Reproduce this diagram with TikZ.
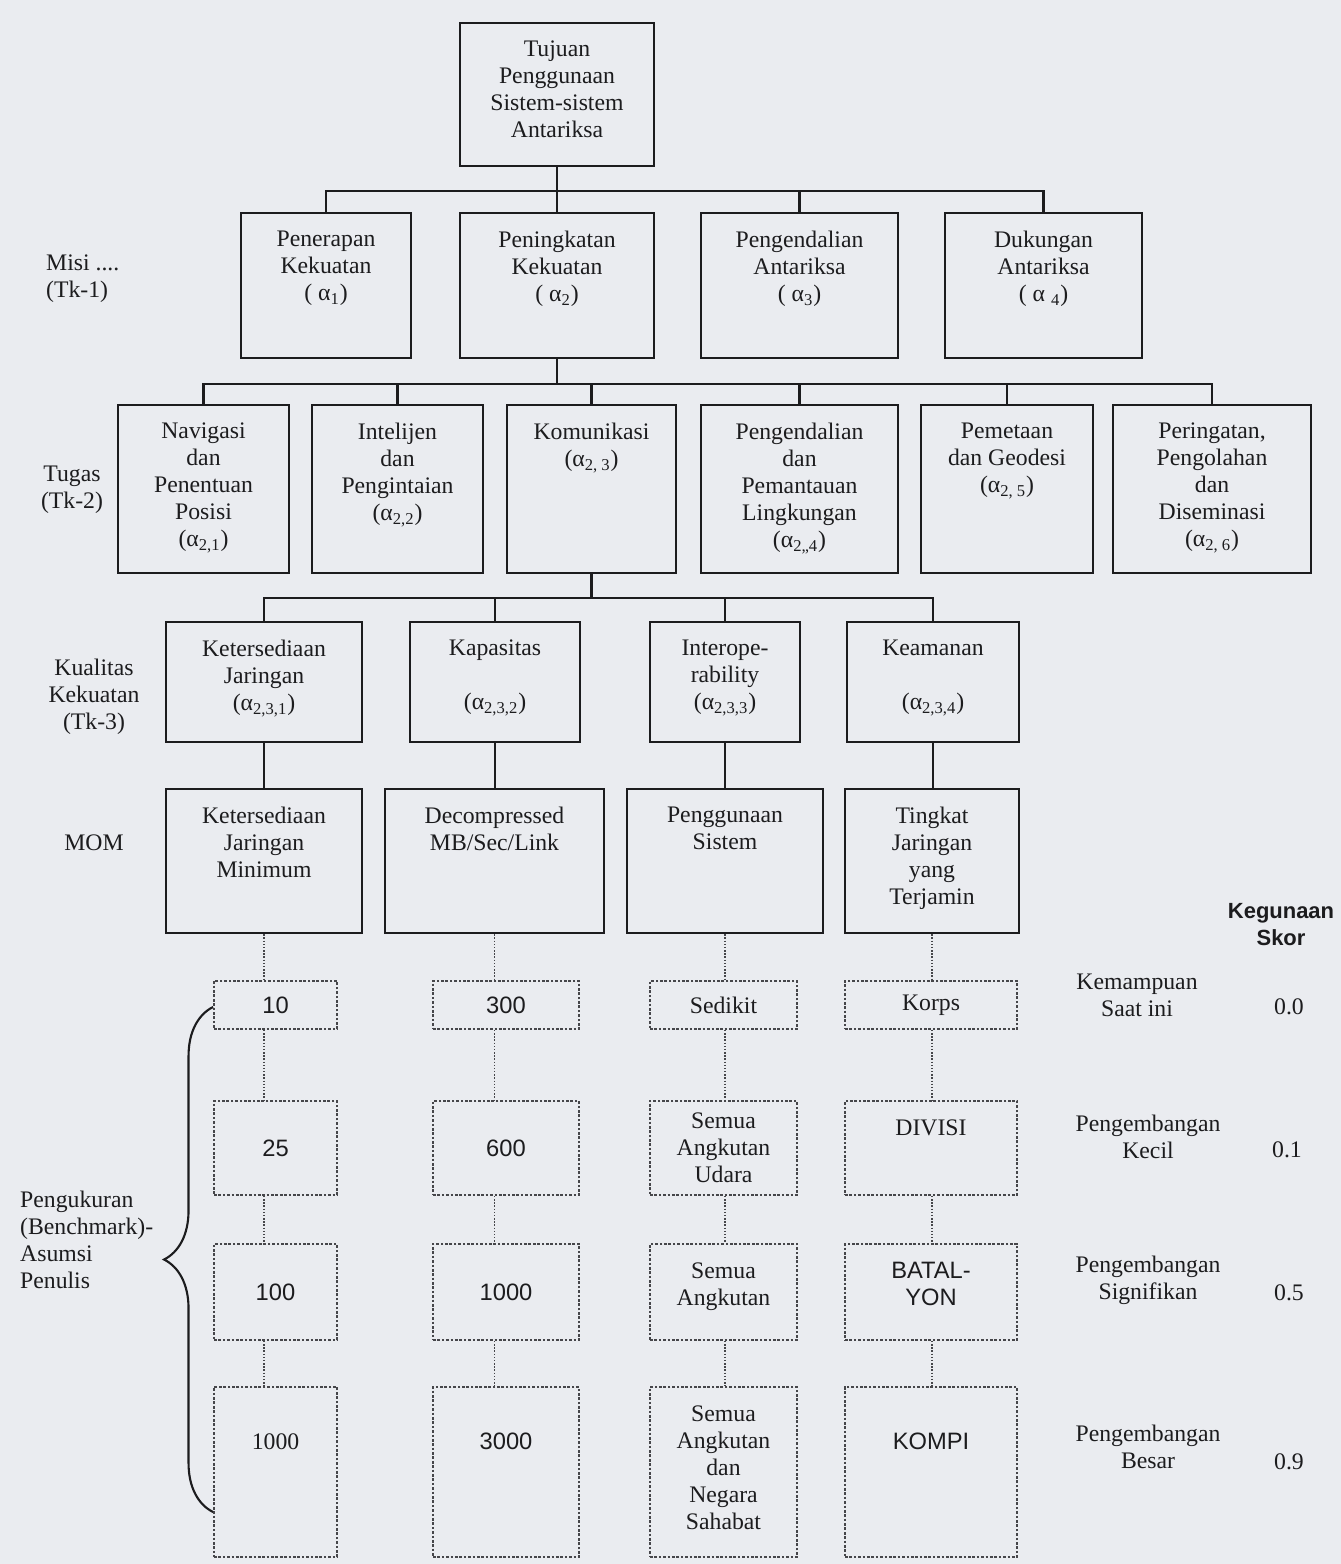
\documentclass[tikz,border=0pt]{standalone}
\usepackage{fontspec}
\setmainfont{Liberation Serif}
\setsansfont{Liberation Sans}
\usepackage{tikz}
\usetikzlibrary{positioning, calc, decorations.pathreplacing}
\definecolor{papercolor}{RGB}{234, 236, 240}
\definecolor{inkcolor}{RGB}{28, 28, 30}
\definecolor{dotcolor}{RGB}{70, 70, 74}

\begin{document}
\begin{tikzpicture}[
    x=0.02cm, y=-0.02cm,
    font=\fontsize{13.5}{15.4}\selectfont,
    text=inkcolor,
    box/.style 2 args={rectangle, draw=inkcolor, line width=1.5pt, minimum width=#1*0.02cm, minimum height=#2*0.02cm, inner sep=0pt, align=center},
    dbox/.style 2 args={box={#1}{#2}, draw=dotcolor, densely dotted, line width=1.1pt},
    toptxt/.style={anchor=north, align=center, inner sep=0pt, yshift=-0.38cm},
    link/.style={draw=inkcolor, line width=1.2pt},
    dlink/.style={draw=dotcolor, densely dotted, line width=0.8pt},
    side/.style={align=center},
    num/.style={font=\fontsize{13.5}{15.4}\selectfont\sffamily}
]
\fill[papercolor] (0,0) rectangle (1341,1564);
\useasboundingbox (0,0) rectangle (1341,1564);

% Goal
\node[box={194}{143}, label={[toptxt]north:{Tujuan\\Penggunaan\\Sistem-sistem\\Antariksa}}] (tuj) at (557,94.5) {};

% Missions (Tk-1)
\node[box={170}{145}, label={[toptxt]north:{Penerapan\\Kekuatan\\( α\textsubscript{1})}}] (pen) at (326,285.5) {};
\node[box={194}{145}, label={[toptxt]north:{Peningkatan\\Kekuatan\\( α\textsubscript{2})}}] (pgk) at (557,285.5) {};
\node[box={197}{145}, label={[toptxt]north:{Pengendalian\\Antariksa\\( α\textsubscript{3})}}] (pga) at (799.5,285.5) {};
\node[box={197}{145}, label={[toptxt]north:{Dukungan\\Antariksa\\( α \textsubscript{4})}}] (duk) at (1043.5,285.5) {};

% Tasks (Tk-2)
\node[box={171}{168}, label={[toptxt]north:{Navigasi\\dan\\Penentuan\\Posisi\\(α\textsubscript{2,1})}}] (nav) at (203.5,489) {};
\node[box={171}{168}, label={[toptxt]north:{Intelijen\\dan\\Pengintaian\\(α\textsubscript{2,2})}}] (int) at (397.5,489) {};
\node[box={169}{168}, label={[toptxt]north:{Komunikasi\\(α\textsubscript{2, 3})}}] (kom) at (591.5,489) {};
\node[box={197}{168}, label={[toptxt]north:{Pengendalian\\dan\\Pemantauan\\Lingkungan\\(α\textsubscript{2,,4})}}] (pdp) at (799.5,489) {};
\node[box={172}{168}, label={[toptxt]north:{Pemetaan\\dan Geodesi\\(α\textsubscript{2, 5})}}] (pmt) at (1007,489) {};
\node[box={198}{168}, label={[toptxt]north:{Peringatan,\\Pengolahan\\dan\\Diseminasi\\(α\textsubscript{2, 6})}}] (prg) at (1212,489) {};

% Force qualities (Tk-3)
\node[box={196}{120}, label={[toptxt]north:{Ketersediaan\\Jaringan\\(α\textsubscript{2,3,1})}}] (ket) at (264,682) {};
\node[box={170}{120}, label={[toptxt]north:{Kapasitas\\[15.4pt](α\textsubscript{2,3,2})}}] (kap) at (495,682) {};
\node[box={150}{120}, label={[toptxt]north:{Interope-\\rability\\(α\textsubscript{2,3,3})}}] (itp) at (725,682) {};
\node[box={172}{120}, label={[toptxt]north:{Keamanan\\[15.4pt](α\textsubscript{2,3,4})}}] (kea) at (933,682) {};

% MOM
\node[box={196}{144}, label={[toptxt]north:{Ketersediaan\\Jaringan\\Minimum}}] (kjm) at (264,861) {};
\node[box={219}{144}, label={[toptxt]north:{Decompressed\\MB/Sec/Link}}] (dec) at (494.5,861) {};
\node[box={196}{144}, label={[toptxt]north:{Penggunaan\\Sistem}}] (pgs) at (725,861) {};
\node[box={174}{144}, label={[toptxt]north:{Tingkat\\Jaringan\\yang\\Terjamin}}] (tjt) at (932,861) {};

% Benchmarks
\node[dbox={123}{48}, num] (r10) at (275.5,1005) {10};
\node[dbox={146}{48}, num] (r300) at (506,1005) {300};
\node[dbox={147}{48}] (sed) at (723.5,1005) {Sedikit};
\node[dbox={172}{48}] (kor) at (931,1005) {Korps};

\node[dbox={123}{94}, num] (r25) at (275.5,1148) {25};
\node[dbox={146}{94}, num] (r600) at (506,1148) {600};
\node[dbox={147}{94}] (sau) at (723.5,1148) {Semua\\Angkutan\\Udara};
\node[dbox={172}{94}, label={[toptxt]north:DIVISI}] (div) at (931,1148) {};

\node[dbox={123}{96}, num] (r100) at (275.5,1292) {100};
\node[dbox={146}{96}, num] (r1000) at (506,1292) {1000};
\node[dbox={147}{96}, label={[toptxt]north:{Semua\\Angkutan}}] (sa) at (723.5,1292) {};
\node[dbox={172}{96}, label={[toptxt, num]north:{BATAL-\\YON}}] (bat) at (931,1292) {};

\node[dbox={123}{170}, label={[toptxt, yshift=-0.56cm]north:1000}] (r1k) at (275.5,1472) {};
\node[dbox={146}{170}, label={[toptxt, num, yshift=-0.56cm]north:3000}] (r3000) at (506,1472) {};
\node[dbox={147}{170}, label={[toptxt]north:{Semua\\Angkutan\\dan\\Negara\\Sahabat}}] (sas) at (723.5,1472) {};
\node[dbox={172}{170}, label={[toptxt, num, yshift=-0.56cm]north:KOMPI}] (kpi) at (931,1472) {};

% Level labels
\node[side, align=left, anchor=west] (misi) at (40,279) {Misi ....\\(Tk-1)};
\node[side] (tugas) at (72,490) {Tugas\\(Tk-2)};
\node[side] (kual) at (94,697) {Kualitas\\Kekuatan\\(Tk-3)};
\node[side] (mom) at (94,843) {MOM};
\node[side, align=left, anchor=west] (ukur) at (14,1240) {Pengukuran\\(Benchmark)-\\Asumsi\\Penulis};

% Utility scores
\node[side, font=\fontsize{12.5}{15.4}\selectfont\sffamily\bfseries] (keg) at (1281,925) {Kegunaan\\Skor};
\node[side] (kem) at (1137,995) {Kemampuan\\Saat ini};
\node[side] (kcl) at (1148,1137) {Pengembangan\\Kecil};
\node[side] (sig) at (1148,1280) {Pengembangan\\Signifikan};
\node[side] (bsr) at (1148,1447) {Pengembangan\\Besar};
\node (s0) at (1289,1007) {0.0};
\node (s1) at (1287,1150) {0.1};
\node (s5) at (1289,1293) {0.5};
\node (s9) at (1289,1462) {0.9};

% Tree links
\coordinate (b1) at (557,191);
\coordinate (b2) at (557,384);
\coordinate (b3) at (591.5,598);
\draw[link] (tuj.south) -- (b1);
\foreach \n in {pen,pgk,pga,duk} \draw[link] (b1) -| (\n.north);
\draw[link] (pgk.south) -- (b2);
\foreach \n in {nav,int,kom,pdp,pmt,prg} \draw[link] (b2) -| (\n.north);
\draw[link] (kom.south) -- (b3);
\foreach \n in {ket,kap,itp,kea} \draw[link] (b3) -| (\n.north);
\foreach \a/\b in {ket/kjm,kap/dec,itp/pgs,kea/tjt} \draw[link] (\a.south) -- (\a.south |- \b.north);

% Benchmark columns
\foreach \c/\p/\q/\r/\s in {kjm/r10/r25/r100/r1k, dec/r300/r600/r1000/r3000, pgs/sed/sau/sa/sas, tjt/kor/div/bat/kpi}
  \draw[dlink] (\c.south) -- (\p.north -| \c.south)
               (\p.south -| \c.south) -- (\q.north -| \c.south)
               (\q.south -| \c.south) -- (\r.north -| \c.south)
               (\r.south -| \c.south) -- (\s.north -| \c.south);

% Brace
\draw[link, decorate, decoration={brace, amplitude=0.98cm}] ($(r1k.west)+(0,40)$) -- ($(r10.west)+(0,2)$);

\end{tikzpicture}
\end{document}
